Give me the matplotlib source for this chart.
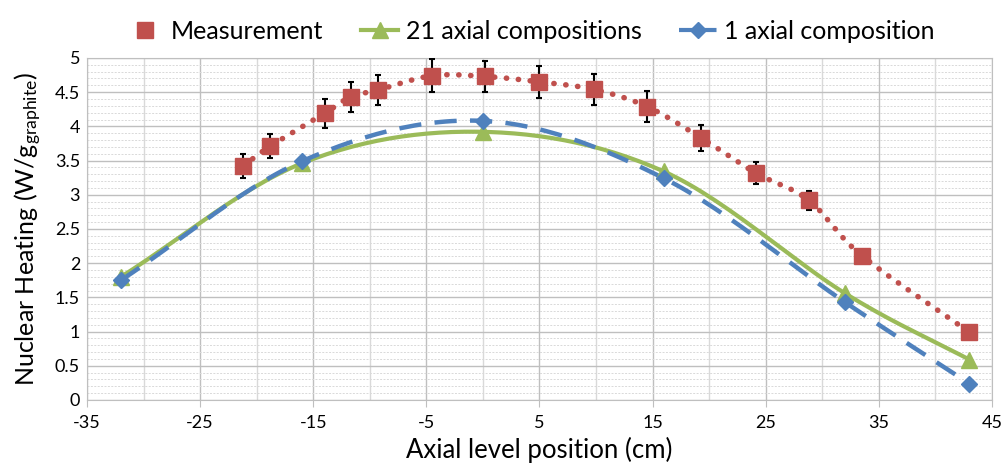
#!/usr/bin/env python3

import numpy as np
import matplotlib
matplotlib.use('Agg')
import matplotlib.pyplot as plt
import matplotlib.ticker as mtick

plt.rcParams['font.family'] = ['Lato', 'DejaVu Sans']
plt.rcParams['mathtext.default'] = 'regular'
plt.rcParams['axes.unicode_minus'] = False

# measurement
meas_x = [-21.2, -18.8, -14.0, -11.7, -9.3, -4.5, 0.2, 5.0, 9.8, 14.5, 19.3, 24.1, 28.8, 33.5, 43.0]
meas_y = [3.42, 3.71, 4.19, 4.43, 4.53, 4.74, 4.73, 4.65, 4.54, 4.29, 3.83, 3.32, 2.92, 2.11, 0.99]
meas_err = [0.17, 0.18, 0.21, 0.22, 0.22, 0.24, 0.23, 0.23, 0.23, 0.22, 0.19, 0.16, 0.14, 0.08, 0.0]

# calculations
calc_x = [-32, -16, 0, 16, 32, 43]
ax21_y = [1.80, 3.46, 3.92, 3.34, 1.56, 0.59]
ax1_y = [1.75, 3.49, 4.08, 3.24, 1.43, 0.24]


def smooth(x, y, n=30):
    # excel-like smoothed line (catmull-rom through the points)
    x = np.asarray(x, float)
    y = np.asarray(y, float)
    px = np.concatenate([[2 * x[0] - x[1]], x, [2 * x[-1] - x[-2]]])
    py = np.concatenate([[2 * y[0] - y[1]], y, [2 * y[-1] - y[-2]]])
    xs, ys = [], []
    t = np.linspace(0, 1, n)
    for i in range(1, len(px) - 2):
        for p, out in ((px, xs), (py, ys)):
            p0, p1, p2, p3 = p[i - 1], p[i], p[i + 1], p[i + 2]
            out.extend(0.5 * ((2 * p1) + (-p0 + p2) * t
                              + (2 * p0 - 5 * p1 + 4 * p2 - p3) * t ** 2
                              + (-p0 + 3 * p1 - 3 * p2 + p3) * t ** 3))
    return xs, ys


red = '#C0504D'
green = '#9BBB59'
blue = '#4F81BD'

fig = plt.figure(figsize=(10.05, 4.75), dpi=100)
plt.subplots_adjust(left=0.0866, right=0.987, top=0.878, bottom=0.158)
ax = plt.gca()

sx, sy = smooth(meas_x, meas_y)
ax.plot(sx, sy, color=red, linestyle=(0, (0.05, 2.1)), linewidth=4, dash_capstyle='round', zorder=3)
ax.errorbar(meas_x, meas_y, yerr=meas_err, fmt='none', ecolor='black', elinewidth=1.5,
            capsize=2.5, capthick=1.5, zorder=4)
ax.plot(meas_x, meas_y, 's', color=red, markersize=12, zorder=5)

gx, gy = smooth(calc_x, ax21_y)
ax.plot(gx, gy, color=green, linewidth=3, zorder=3)
ax.plot(calc_x, ax21_y, '^', color=green, markersize=11, zorder=4)

bx, by = smooth(calc_x, ax1_y)
ax.plot(bx, by, color=blue, linewidth=3.2, linestyle=(0, (5, 3)), zorder=3)
ax.plot(calc_x, ax1_y, 'D', color=blue, markersize=8, zorder=4)

# legend handles
h1, = ax.plot([], [], 's', color=red, markersize=12)
h2, = ax.plot([], [], '-^', color=green, linewidth=3, markersize=11)
h3, = ax.plot([], [], '--D', color=blue, linewidth=3, markersize=8)
ax.legend([h1, h2, h3], ['Measurement', '21 axial compositions', '1 axial composition'],
          loc='lower center', bbox_to_anchor=(0.49, 1.0), ncol=3, frameon=False,
          fontsize=18, handlelength=1.5, handletextpad=0.3, columnspacing=1.5,
          borderaxespad=0.2)

ax.set_xlim(-35, 45)
ax.set_ylim(0, 5)
ax.set_xticks(np.arange(-35, 46, 10))
ax.set_xticks(np.arange(-30, 41, 10), minor=True)
ax.set_yticks(np.arange(0, 5.01, 0.5))
ax.yaxis.set_minor_locator(mtick.MultipleLocator(0.1))
ax.yaxis.set_major_formatter(mtick.FormatStrFormatter('%g'))

ax.grid(which='major', axis='both', color='#BFBFBF', linewidth=1.0, zorder=0)
ax.grid(which='minor', axis='x', color='#D9D9D9', linewidth=1.0, zorder=0)
ax.grid(which='minor', axis='y', color='#D9D9D9', linewidth=0.7, linestyle=(0, (2, 1.5)), zorder=0)
ax.set_axisbelow(True)

for s in ax.spines.values():
    s.set_color('#BFBFBF')
ax.tick_params(axis='x', which='major', length=5, color='#BFBFBF', labelsize=13, pad=6)
ax.tick_params(axis='y', which='major', length=0, labelsize=13, pad=5)
ax.tick_params(which='minor', length=0)

ax.set_xlabel('Axial level position (cm)', fontsize=18.5, labelpad=4)
ax.set_ylabel(r'Nuclear Heating (W/g$_{graphite}$)', fontsize=18, labelpad=8)

plt.savefig('out.png', dpi=100)
